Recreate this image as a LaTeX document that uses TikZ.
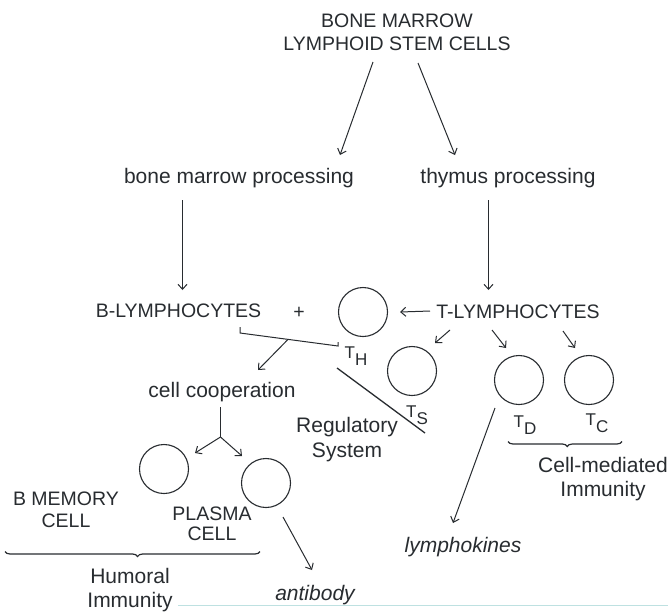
\documentclass[tikz,border=0pt]{standalone}
\usepackage{fontspec}
\setmainfont{Liberation Sans}
\usetikzlibrary{arrows.meta,decorations.pathreplacing}
\definecolor{ink}{RGB}{40,44,48}
\definecolor{scanline}{RGB}{190,225,225}
\newcommand\twol[2]{\begin{tabular}[t]{@{}c@{}}#1\\#2\end{tabular}}
\newcommand\tlab[2]{#1\raisebox{-7.5pt}{#2}}
\begin{document}
\begin{tikzpicture}[x=1pt,y=-1pt,
  every node/.style={inner sep=0pt, text=ink},
  txtU/.style={font=\fontsize{19.5}{23}\selectfont, anchor=base},
  txtL/.style={font=\fontsize{21}{24}\selectfont, anchor=base},
  txtI/.style={font=\fontsize{21}{24}\itshape\selectfont, anchor=base},
  txtT/.style={font=\fontsize{17}{20}\selectfont, anchor=base},
  cellc/.style={circle, draw=ink, line width=1.1pt, minimum size=49pt},
  arr/.style={draw=ink, line width=1pt, -{Straight Barb[length=5pt,width=9pt]}},
  ln/.style={draw=ink, line width=1pt},
  brc/.style={draw=ink, line width=1.2pt, decorate, decoration={brace, amplitude=5pt, aspect=0.48}},
]
\path[use as bounding box, fill=white] (0,0) rectangle (668,611);

% text nodes
\node[txtU] (top) at (397,27) {\twol{BONE MARROW}{LYMPHOID STEM CELLS}};
\node[txtL] (bmp) at (239,183) {bone marrow processing};
\node[txtL] (thm) at (508,183) {thymus processing};
\node[txtU] (blym) at (178.5,317) {B-LYMPHOCYTES};
\node[txtU] (tlym) at (518,318) {T-LYMPHOCYTES};
\node[font=\fontsize{19.5}{23}\selectfont] (plus) at (299,313) {+};
\node[txtL] (cc) at (222,397) {cell cooperation};
\node[txtL, font=\fontsize{21}{25}\selectfont] (reg) at (347,432) {\twol{Regulatory}{System}};
\node[txtU, font=\fontsize{19.5}{22}\selectfont] (meml) at (66,505) {\twol{B MEMORY}{CELL}};
\node[txtU, font=\fontsize{19.5}{20}\selectfont] (plal) at (212,520) {\twol{PLASMA}{CELL}};
\node[txtL] (hum) at (130,583) {\twol{Humoral}{Immunity}};
\node[txtI] (ab) at (315,600) {antibody};
\node[txtI] (lk) at (463,552) {lymphokines};
\node[txtL] (cmi) at (603,472) {\twol{Cell-mediated}{Immunity}};

% cells
\node[cellc] (THc) at (363,312) {};
\node[cellc] (TSc) at (412,371) {};
\node[cellc] (TDc) at (519,380) {};
\node[cellc] (TCc) at (589,380) {};
\node[cellc] (mem) at (164,469) {};
\node[cellc] (pla) at (266,483) {};

\node[txtT] (THl) at (356,358) {\tlab{T}{H}};
\node[txtT] (TSl) at (417,417) {\tlab{T}{S}};
\node[txtT] (TDl) at (525,427) {\tlab{T}{D}};
\node[txtT] (TCl) at (597,425) {\tlab{T}{C}};

% connectors
\draw[arr] ([shift={(-24,35)}]top.base) -- ([shift={(101,-28)}]bmp.base);
\draw[arr] ([shift={(21,36)}]top.base) -- ([shift={(-53,-28)}]thm.base);
\draw[arr] ([shift={(-56.5,17)}]bmp.base) -- ([shift={(4,-27)}]blym.base);
\draw[arr] ([shift={(-19.5,17)}]thm.base) -- ([shift={(-29.5,-28)}]tlym.base);
\draw[arr] ([shift={(-88,-7)}]tlym.base) -- ([xshift=12pt]THc.east);

\draw[ln] ([shift={(61.5,10)}]blym.base) -- ++(0,6)
  -- coordinate[pos=0.49] (coop) ([shift={(-25,34)}]THc.center) -- ++(0,-4);
\draw[arr] (coop) -- ([shift={(36,-27)}]cc.base);

\draw[ln] ([shift={(-1.5,10)}]cc.base) -- ++(0,30) coordinate (split);
\draw[arr] (split) -- ([shift={(31,-16)}]mem.center);
\draw[arr] (split) -- ([shift={(-24,-27)}]pla.center);
\draw[arr] ([shift={(17,34)}]pla.center) -- ([shift={(-3,-30)}]ab.base);

\draw[arr] ([shift={(-68,12)}]tlym.base) -- ([shift={(23,-28)}]TSc.center);
\draw[arr] ([shift={(-26,12)}]tlym.base) -- ([shift={(-13,-32)}]TDc.center);
\draw[arr] ([shift={(45,13)}]tlym.base) -- ([shift={(-14,-32)}]TCc.center);
\draw[arr] ([shift={(-24,28)}]TDc.center) -- ([shift={(-10,-29)}]lk.base);

\draw[ln, line width=1.3pt] ([shift={(-26,56)}]THc.center) -- ([shift={(13,62)}]TSc.center);

% braces
\draw[brc] (260,551.5) -- (5,551.5);
\draw[brc] (622,441.5) -- (508,441.5);

% faint scan line
\draw[scanline, line width=0.8pt] (178,605) -- (668,605);
\end{tikzpicture}
\end{document}
